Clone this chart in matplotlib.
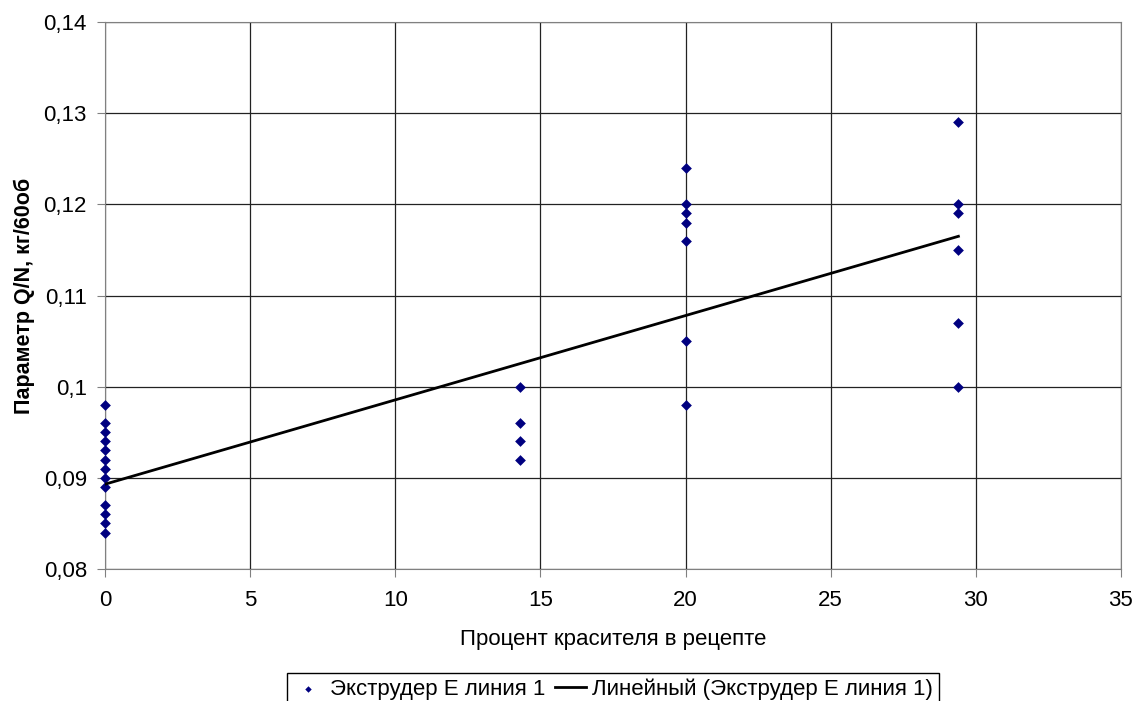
import numpy as np
import matplotlib.pyplot as plt

# Data
pct_0 = [0, 0, 0, 0, 0, 0, 0, 0, 0, 0, 0, 0, 0]
qn_0 = [0.098, 0.096, 0.095, 0.094, 0.093, 0.092, 0.091, 0.090, 0.089, 0.087, 0.086, 0.085, 0.084]
pct_14 = [14.3, 14.3, 14.3, 14.3]
qn_14 = [0.100, 0.096, 0.094, 0.092]
pct_20 = [20, 20, 20, 20, 20, 20, 20]
qn_20 = [0.124, 0.120, 0.119, 0.118, 0.116, 0.105, 0.098]
pct_29 = [29.4, 29.4, 29.4, 29.4, 29.4, 29.4]
qn_29 = [0.129, 0.120, 0.119, 0.115, 0.107, 0.100]

# linear trendline as drawn by the spreadsheet (slope, intercept)
trend_slope = 0.000925
trend_intercept = 0.0893

x_ticks = [0, 5, 10, 15, 20, 25, 30, 35]
y_ticks = [0.08, 0.09, 0.10, 0.11, 0.12, 0.13, 0.14]
y_labels = ['0,08', '0,09', '0,1', '0,11', '0,12', '0,13', '0,14']

x = np.array(pct_0 + pct_14 + pct_20 + pct_29, dtype=float)
y = np.array(qn_0 + qn_14 + qn_20 + qn_29)

plt.rcParams['font.family'] = ['Liberation Sans', 'DejaVu Sans']
fig = plt.figure(figsize=(11.37, 7.01), dpi=100)
ax = fig.add_axes([0.0923, 0.1883, 0.8936, 0.7803])

ax.scatter(x, y, marker='D', s=30, color='#000080', zorder=3, linewidths=0,
           clip_on=False, label='Экструдер Е линия 1')
tx = np.array([x.min(), x.max()])
ax.plot(tx, trend_slope * tx + trend_intercept, color='black', lw=2, zorder=4,
        label='Линейный (Экструдер Е линия 1)')

ax.set_xlim(0, 35)
ax.set_ylim(0.08, 0.14)
ax.set_xticks(x_ticks)
ax.set_yticks(y_ticks)
ax.set_yticklabels(y_labels)
ax.grid(True, color='#222222', lw=0.9)
ax.set_axisbelow(True)
for s in ax.spines.values():
    s.set_color('#808080')
ax.tick_params(axis='both', length=6, color='#808080', labelsize=16)
ax.tick_params(axis='x', pad=9)
ax.tick_params(axis='y', pad=7)

ax.set_xlabel('Процент красителя в рецепте', fontsize=16, labelpad=13)
ax.set_ylabel('Параметр Q/N, кг/60об', fontsize=15.5, fontweight='bold', labelpad=6)

leg = fig.legend(loc='lower center', bbox_to_anchor=(0.539, -0.022), ncol=2, fontsize=16,
                 frameon=True, fancybox=False, edgecolor='black', framealpha=1,
                 handlelength=1.4, handletextpad=0.3, columnspacing=0.4,
                 borderpad=0.25, markerscale=0.6)
leg.get_frame().set_linewidth(1)

fig.savefig('out.png', dpi=100)
